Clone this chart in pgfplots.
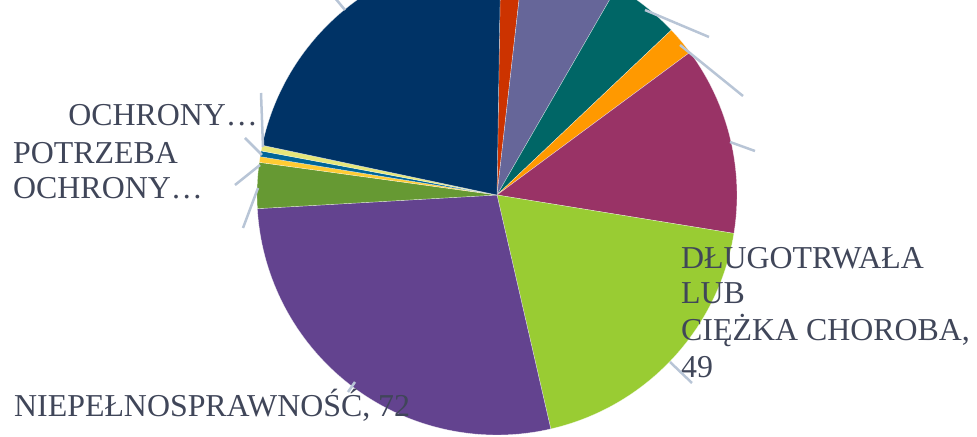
\documentclass[border=0pt]{standalone}
\usepackage{pgfplots}
\usepackage{pgfplotstable}
\pgfplotsset{compat=1.18}
\usepackage{fontspec}
\setmainfont{Liberation Serif}
\definecolor{sl0}{HTML}{CC3300}
\definecolor{sl1}{HTML}{666699}
\definecolor{sl2}{HTML}{006666}
\definecolor{sl3}{HTML}{FF9900}
\definecolor{sl4}{HTML}{993366}
\definecolor{sl5}{HTML}{99CC33}
\definecolor{sl6}{HTML}{63438F}
\definecolor{sl7}{HTML}{669933}
\definecolor{sl8}{HTML}{FFCC33}
\definecolor{sl9}{HTML}{006699}
\definecolor{sl10}{HTML}{E6E67A}
\definecolor{sl11}{HTML}{003366}
\definecolor{txt}{HTML}{404659}
\definecolor{lead}{HTML}{B8C5D6}
\pgfplotstableread{
value
4
17
12
5
33
49
72
8
1
1
1
57
}\piedata
\begin{document}
\begin{tikzpicture}
\def\total{0}
\pgfplotsforeachungrouped \i in {0,...,11}{%
  \pgfplotstablegetelem{\i}{value}\of\piedata
  \pgfmathsetmacro{\total}{\total+\pgfplotsretval}%
}
\def\cum{0}
\def\offset{0.9}
\pgfplotsforeachungrouped \i in {0,...,11}{%
  \pgfplotstablegetelem{\i}{value}\of\piedata
  \pgfmathsetmacro{\aS}{90-\offset-(\cum/\total)*360}%
  \pgfmathsetmacro{\cum}{\cum+\pgfplotsretval}%
  \pgfmathsetmacro{\aE}{90-\offset-(\cum/\total)*360}%
  \expandafter\xdef\csname aS\i\endcsname{\aS}%
  \expandafter\xdef\csname aE\i\endcsname{\aE}%
}
\begin{axis}[x=1bp, y=1bp, xmin=-497, xmax=480, ymin=-242, ymax=195,
  hide axis, anchor=south west, at={(0,0)}, clip=false]
\pgfplotsforeachungrouped \i in {0,...,11}{%
  \edef\temp{\noexpand\fill[sl\i, draw=white, draw opacity=0.6, line width=0.4bp] (axis cs:0,0) -- ++(\csname aS\i\endcsname:240bp) arc[start angle=\csname aS\i\endcsname, end angle=\csname aE\i\endcsname, radius=240bp] -- cycle;}%
  \temp
}
\begin{scope}[every node/.style={inner sep=0pt, text=txt, font=\fontsize{32}{35}\selectfont}]
\node[anchor=base east] at (axis cs:-239,70) {OCHRONY…};
\node[anchor=base west] at (axis cs:-484,32) {POTRZEBA};
\node[anchor=base west] at (axis cs:-484,-3) {OCHRONY…};
\node[anchor=base west] at (axis cs:184,-73) {DŁUGOTRWAŁA};
\node[anchor=base west] at (axis cs:184,-108) {LUB};
\node[anchor=base west] at (axis cs:184,-145) {CIĘŻKA CHOROBA,};
\node[anchor=base west] at (axis cs:184,-182) {49};
\node[anchor=base west] at (axis cs:-483,-221) {NIEPEŁNOSPRAWNOŚĆ, 72};
\end{scope}
\begin{scope}[lead, line width=2.5bp]
\draw (axis cs:-167,203) -- (axis cs:-152,185);
\draw (axis cs:-236,102) -- (axis cs:-234,48);
\draw (axis cs:-252,57) -- (axis cs:-235,40);
\draw (axis cs:-262,10) -- (axis cs:-237,30);
\draw (axis cs:-254,-33) -- (axis cs:-239,7);
\draw (axis cs:148,185) -- (axis cs:212,158);
\draw (axis cs:183,150) -- (axis cs:246,99);
\draw (axis cs:233,53) -- (axis cs:258,44);
\draw (axis cs:173,-167) -- (axis cs:195,-188);
\draw (axis cs:-149,-197) -- (axis cs:-142,-187);
\end{scope}
\end{axis}
\pgfresetboundingbox
\useasboundingbox (0,0) rectangle (977bp,437bp);
\end{tikzpicture}
\end{document}
